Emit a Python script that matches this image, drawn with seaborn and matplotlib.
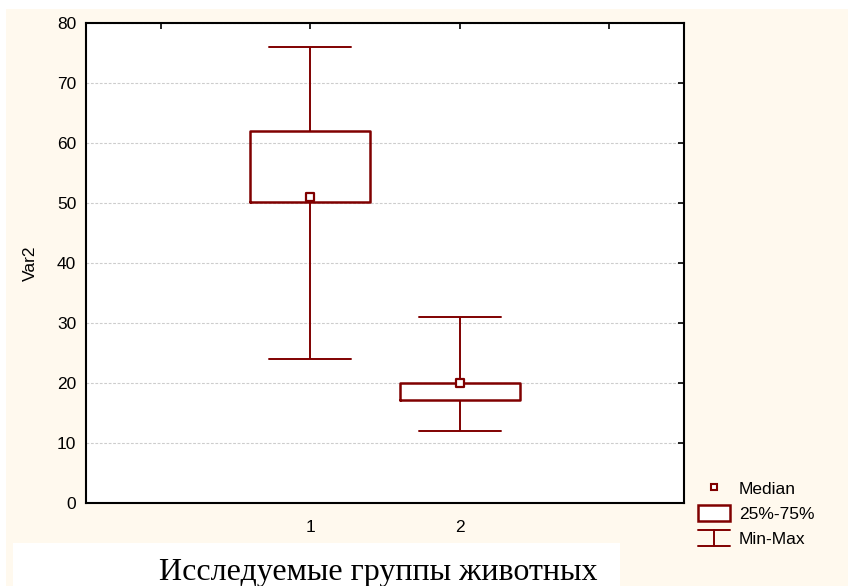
import pandas as pd
import numpy as np
import matplotlib
matplotlib.use("Agg")
import matplotlib.pyplot as plt
import seaborn as sns
from matplotlib.lines import Line2D
from matplotlib.patches import Rectangle
from matplotlib.legend_handler import HandlerBase

# box summary: min, 25%, median, 75%, max
groups = [1, 2]
mins = [24, 12]
q1s = [50.2, 17.2]
medians = [51, 20]
q3s = [62, 20]
maxs = [76, 31]

tick_pos = [0, 1, 2, 3]
tick_labels = ["", "1", "2", ""]
y_ticks = [0, 10, 20, 30, 40, 50, 60, 70, 80]

ylabel = "Var2"
xlabel = "Исследуемые группы животных"
legend_labels = ["Median", "25%-75%", "Min-Max"]

dark_red = "#800000"
cream = "#FFF9EE"

# 5 values per group -> the quartiles come out exactly at q1/median/q3
rows = []
for g, a, b, c, d, e in zip(groups, mins, q1s, medians, q3s, maxs):
    for v in (a, b, c, d, e):
        rows.append({"group": g, "value": v})
df = pd.DataFrame(rows)
med_df = pd.DataFrame({"group": groups, "value": medians})

sns.set_style("white")
plt.rcParams['font.family'] = ['Liberation Sans', 'DejaVu Sans']
plt.rcParams['text.color'] = 'black'

fig = plt.figure(figsize=(8.48, 5.86), dpi=100, facecolor="white")

# cream page + white strip under the chart
fig.add_artist(Rectangle((6 / 848, 0), 1, 1 - 9 / 586, transform=fig.transFigure,
                         facecolor=cream, edgecolor="none", zorder=-10))
fig.add_artist(Rectangle((13 / 848, 0), (620 - 13) / 848, 43 / 586, transform=fig.transFigure,
                         facecolor="white", edgecolor="none", zorder=-5))

ax = fig.add_axes([86 / 848, 1 - 503 / 586, 598 / 848, 480 / 586])
ax.set_facecolor("white")

sns.boxplot(data=df, x="group", y="value", native_scale=True, whis=(0, 100),
            width=0.8, fill=False, color=dark_red, linecolor=dark_red,
            linewidth=1.4, showfliers=False, capwidths=0.55,
            boxprops=dict(linewidth=1.8), medianprops=dict(visible=False), ax=ax)

sns.scatterplot(data=med_df, x="group", y="value", marker="s", s=30,
                color="white", edgecolor=dark_red, linewidth=1.6, zorder=5,
                legend=False, ax=ax)

ax.set_xlim(-0.5, 3.5)
ax.set_ylim(0, 80)
ax.set_xticks(tick_pos, tick_labels)
ax.set_yticks(y_ticks)
ax.tick_params(direction="in", length=4, width=1.2, top=True, right=True,
               labelsize=12.5, colors="black")
ax.tick_params(axis="x", pad=12)
ax.tick_params(axis="y", pad=7)

ax.set_axisbelow(True)
ax.yaxis.grid(True, color="#CDCDCD", linestyle=(0, (2.5, 1.5)), linewidth=0.8)
ax.xaxis.grid(False)
for sp in ax.spines.values():
    sp.set_color("black")
    sp.set_linewidth(1.5)

ax.set_xlabel("")
ax.set_ylabel(ylabel, fontsize=12.5, color="black")
ax.yaxis.set_label_coords(-0.080, 0.5)

fig.text(378 / 848, 1 - 580 / 586, xlabel, ha="center", va="baseline",
         family="Liberation Serif", fontsize=23, color="black")


class MinMaxHandler(HandlerBase):
    def create_artists(self, legend, orig_handle, xdescent, ydescent, width, height, fontsize, trans):
        x0 = -xdescent
        x1 = x0 + width
        xm = (x0 + x1) / 2
        y0 = -ydescent
        y1 = y0 + height
        arts = [Line2D([x0, x1], [y1, y1]), Line2D([x0, x1], [y0, y0]), Line2D([xm, xm], [y0, y1])]
        for a in arts:
            a.set_color(dark_red)
            a.set_linewidth(1.4)
            a.set_transform(trans)
        return arts


med_h = Line2D([], [], marker="s", ls="none", ms=4, mfc="white", mec=dark_red, mew=1.5)
box_h = Rectangle((0, 0), 1, 1, facecolor="white", edgecolor=dark_red, linewidth=1.8)
mm_h = Line2D([], [])

fig.legend(handles=[med_h, box_h, mm_h], labels=legend_labels,
           handler_map={mm_h: MinMaxHandler()}, loc="upper left",
           bbox_to_anchor=(698 / 848, 1 - 480 / 586), frameon=False, fontsize=12.5,
           labelcolor="black", handlelength=1.84, handleheight=1.05, handletextpad=0.52,
           labelspacing=0.45, borderpad=0, borderaxespad=0)

fig.savefig("out.png", dpi=100)
